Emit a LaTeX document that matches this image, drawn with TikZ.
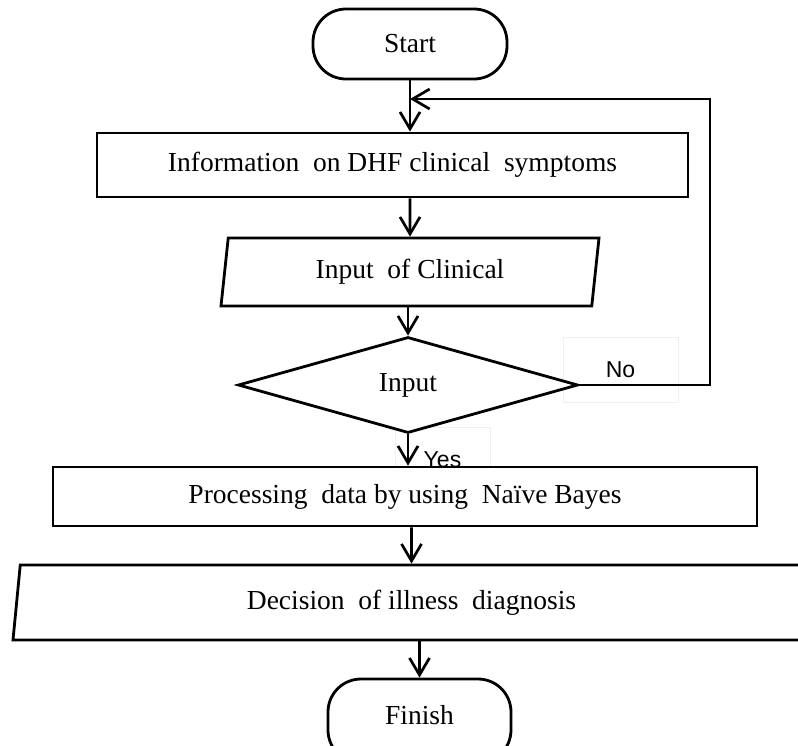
\documentclass[tikz,border=0pt]{standalone}
\usepackage{fontspec}
\setmainfont{Liberation Serif}
\newfontfamily\labfont{Liberation Sans}
\usetikzlibrary{shapes.geometric,arrows.meta}

\begin{document}
\begin{tikzpicture}[x=1pt,y=-1pt,
  arr/.style={line width=2.7pt, -{Straight Barb[length=17pt,width=20pt]}},
  box/.style={draw, line width=2.8pt, fill=white, inner sep=0pt, font=\fontsize{27.5}{33}\selectfont},
  term/.style={box, rounded corners=33pt},
  io/.style={box, trapezium, trapezium left angle=74, trapezium right angle=106, trapezium stretches body},
  choice/.style={box, diamond},
  lab/.style={draw=black!6, line width=0.6pt, inner sep=0pt, font=\labfont\fontsize{23}{28}\selectfont}
]
\useasboundingbox (0,0) rectangle (798,745);

% ===================== Labels =====================
\node[lab, minimum width=115pt, minimum height=65pt] (No)  at (620.5,369.5) {No};
\node[lab, minimum width=95pt,  minimum height=65pt] (Yes) at (442.5,459.5) {Yes};

% ===================== Steps =====================
\node[term, minimum width=194pt, minimum height=70pt] (St) at (410,44) {Start};
\node[box, minimum width=591pt, minimum height=64pt] (Info) at (392.5,165) {Information\ \ on DHF clinical\ \ symptoms};
\node[io, minimum width=378pt, minimum height=68pt] (InClin) at (410,272) {Input\ \ of Clinical};
\node[choice, minimum width=340pt, minimum height=96pt] (Chk) at (408,385) {Input};
\node[box, minimum width=704pt, minimum height=59pt] (Proc) at (405,496.5) {Processing\ \ data by using\ \ Na\"{\i}ve Bayes};
\node[io, minimum width=797pt, minimum height=75pt] (Diag) at (411.5,602.5) {Decision\ \ of illness\ \ diagnosis};
\node[term, minimum width=183pt, minimum height=84pt, text depth=12pt] (Fin) at (419.5,721) {Finish};

% ===================== Arrows =====================
\draw[arr] (St) -- (St |- Info.north);
\draw[arr] (InClin |- Info.south) -- (InClin);
\draw[arr] (Chk |- InClin.south) -- (Chk.north);
\draw[arr] (Chk) -- (Chk |- Proc.north);
\draw[arr] (Diag |- Proc.south) -- (Diag);
\draw[arr] (Fin |- Diag.south) -- (Fin);

% No: back to the top
\coordinate (LoopR) at (710,99);
\draw[arr] (Chk.east) -- (Chk.east -| LoopR) -- (LoopR) -- (St |- LoopR);

\end{tikzpicture}
\end{document}
